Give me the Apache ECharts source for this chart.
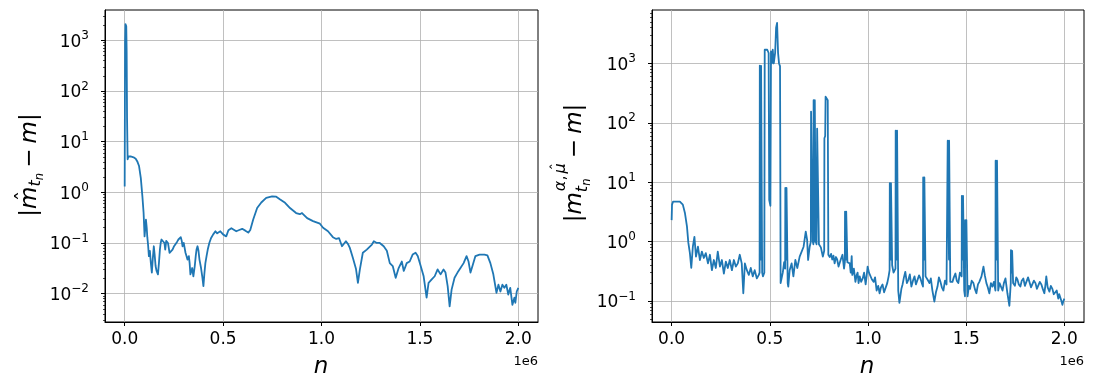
<!DOCTYPE html>
<html><head><meta charset="utf-8">
<script src="https://cdn.jsdelivr.net/npm/echarts@6/dist/echarts.min.js"></script>
<style>html,body{margin:0;padding:0;background:#fff}#c{width:1093px;height:390px}</style>
</head><body><div id="c"></div>
<script>
// x in units of 1e6
const xTicks = [0, 0.5, 1.0, 1.5, 2.0];
const leftYTicks = [0.01, 0.1, 1, 10, 100, 1000];
const rightYTicks = [0.1, 1, 10, 100, 1000];

const leftData = [
[0,1.3],[0.002,900],[0.004,2100],[0.006,2200],[0.008,1900],[0.010,600],[0.012,30],[0.015,4.5],[0.019,5.1],[0.03,5.1],[0.045,4.9],[0.056,4.6],[0.065,4.0],[0.073,3.3],[0.082,1.9],[0.09,0.83],[0.096,0.4],[0.101,0.135],[0.105,0.2],[0.108,0.29],[0.112,0.2],[0.115,0.13],[0.119,0.09],[0.123,0.055],[0.128,0.07],[0.133,0.04],[0.138,0.026],[0.143,0.05],[0.148,0.086],[0.152,0.06],[0.157,0.035],[0.162,0.028],[0.169,0.024],[0.174,0.04],[0.179,0.074],[0.183,0.1],[0.187,0.117],[0.192,0.11],[0.197,0.117],[0.202,0.1],[0.206,0.074],[0.211,0.11],[0.216,0.12],[0.22,0.1],[0.228,0.064],[0.236,0.068],[0.243,0.074],[0.25,0.085],[0.258,0.093],[0.266,0.105],[0.273,0.117],[0.28,0.125],[0.285,0.13],[0.29,0.11],[0.294,0.086],[0.3,0.1],[0.304,0.093],[0.309,0.064],[0.314,0.055],[0.319,0.047],[0.326,0.055],[0.33,0.04],[0.334,0.024],[0.339,0.028],[0.343,0.032],[0.349,0.022],[0.356,0.035],[0.361,0.055],[0.365,0.074],[0.37,0.086],[0.375,0.07],[0.38,0.047],[0.388,0.032],[0.394,0.022],[0.4,0.014],[0.405,0.025],[0.41,0.04],[0.416,0.055],[0.422,0.074],[0.43,0.1],[0.439,0.125],[0.449,0.146],[0.461,0.17],[0.47,0.155],[0.476,0.146],[0.486,0.17],[0.493,0.16],[0.501,0.146],[0.51,0.14],[0.516,0.135],[0.527,0.178],[0.542,0.195],[0.552,0.18],[0.567,0.17],[0.582,0.18],[0.597,0.19],[0.613,0.175],[0.628,0.16],[0.638,0.18],[0.653,0.29],[0.673,0.49],[0.694,0.63],[0.719,0.78],[0.749,0.83],[0.77,0.82],[0.79,0.72],[0.815,0.62],[0.84,0.49],[0.871,0.39],[0.89,0.37],[0.901,0.39],[0.927,0.31],[0.957,0.27],[0.992,0.24],[1.008,0.2],[1.033,0.17],[1.058,0.13],[1.075,0.12],[1.089,0.125],[1.104,0.086],[1.124,0.108],[1.135,0.095],[1.144,0.08],[1.16,0.05],[1.175,0.031],[1.185,0.0163],[1.195,0.03],[1.21,0.064],[1.23,0.074],[1.256,0.093],[1.266,0.108],[1.281,0.1],[1.296,0.1],[1.316,0.086],[1.332,0.07],[1.347,0.04],[1.362,0.035],[1.377,0.0205],[1.392,0.032],[1.408,0.043],[1.418,0.028],[1.433,0.04],[1.448,0.043],[1.463,0.059],[1.478,0.064],[1.489,0.055],[1.504,0.035],[1.519,0.022],[1.534,0.0083],[1.544,0.0163],[1.56,0.019],[1.575,0.022],[1.59,0.03],[1.605,0.024],[1.62,0.03],[1.63,0.026],[1.641,0.014],[1.651,0.0056],[1.661,0.012],[1.676,0.0205],[1.691,0.026],[1.706,0.032],[1.722,0.04],[1.737,0.055],[1.747,0.043],[1.757,0.026],[1.767,0.035],[1.782,0.055],[1.803,0.059],[1.828,0.059],[1.843,0.057],[1.858,0.04],[1.873,0.024],[1.889,0.0104],[1.899,0.015],[1.909,0.011],[1.919,0.015],[1.929,0.013],[1.939,0.015],[1.949,0.0096],[1.959,0.013],[1.97,0.006],[1.98,0.0083],[1.985,0.0066],[1.992,0.011],[2.0,0.013]
];

const rightData = [
[0,2.3],[0.002,4.2],[0.007,4.7],[0.042,4.7],[0.057,4.2],[0.068,3.0],[0.078,1.8],[0.085,0.96],[0.093,0.64],[0.1,0.36],[0.108,0.82],[0.116,1.2],[0.124,0.56],[0.134,0.82],[0.144,0.49],[0.154,0.68],[0.164,0.53],[0.174,0.64],[0.185,0.43],[0.195,0.6],[0.205,0.33],[0.215,0.49],[0.225,0.36],[0.235,0.68],[0.246,0.38],[0.256,0.49],[0.266,0.29],[0.276,0.46],[0.286,0.36],[0.296,0.49],[0.307,0.33],[0.317,0.49],[0.327,0.38],[0.337,0.43],[0.347,0.6],[0.357,0.43],[0.365,0.135],[0.373,0.43],[0.383,0.33],[0.393,0.275],[0.403,0.36],[0.413,0.26],[0.423,0.33],[0.434,0.24],[0.444,0.275],[0.448,0.3],
[0.449,920],[0.4545,900],[0.455,0.5],[0.4555,910],[0.46,900],[0.461,0.3],
[0.465,0.26],[0.472,0.3],[0.474,1700],[0.48,1800],[0.487,1700],[0.494,1500],[0.497,5],[0.503,4],[0.506,1600],[0.51,1000],[0.515,1700],[0.52,1000],[0.527,1500],[0.532,4000],[0.537,4800],[0.542,1500],[0.547,1000],[0.552,900],[0.555,0.2],[0.559,0.2],[0.566,0.3],[0.573,0.45],[0.578,0.35],
[0.579,8],[0.584,8],[0.5845,0.5],[0.585,8],[0.59,8],[0.591,0.2],
[0.594,0.175],[0.601,0.33],[0.611,0.43],[0.62,0.26],[0.63,0.49],[0.64,0.36],[0.652,0.56],[0.662,0.6],[0.672,0.82],[0.683,1.47],[0.69,1.07],[0.695,0.49],[0.703,0.82],[0.709,1.0],[0.710,155],[0.718,150],[0.719,1.0],[0.722,0.9],
[0.723,240],[0.728,240],[0.7285,1.0],[0.729,240],[0.733,240],[0.734,1.0],
[0.738,0.9],[0.741,80],[0.749,80],[0.75,0.9],[0.76,0.8],[0.77,0.56],[0.777,0.7],[0.778,55],[0.782,60],[0.784,275],[0.79,260],[0.795,240],[0.798,0.6],[0.805,0.55],[0.812,0.62],[0.818,0.5],[0.824,0.58],[0.83,0.43],[0.837,0.55],[0.843,0.5],[0.85,0.38],[0.856,0.4],[0.863,0.52],[0.87,0.6],[0.878,0.35],[0.882,0.45],
[0.883,3.2],[0.888,3.2],[0.8885,0.5],[0.889,3.2],[0.894,3.2],[0.895,0.45],
[0.907,0.43],[0.912,0.3],[0.917,0.57],[0.92,0.275],[0.928,0.35],[0.936,0.21],[0.942,0.27],[0.947,0.3],[0.952,0.2],[0.958,0.26],[0.965,0.21],[0.973,0.24],[0.98,0.3],[0.988,0.19],[0.993,0.26],[0.998,0.38],[1.005,0.3],[1.013,0.29],[1.02,0.23],[1.029,0.21],[1.036,0.25],[1.044,0.15],[1.052,0.18],[1.059,0.135],[1.066,0.17],[1.074,0.19],[1.082,0.14],[1.09,0.15],[1.098,0.2],[1.105,0.26],[1.11,0.33],
[1.111,9.6],[1.116,9.6],[1.1165,0.5],[1.117,9.6],[1.122,9.6],[1.123,0.4],
[1.13,0.3],[1.14,0.35],
[1.141,74],[1.147,74],[1.1475,0.5],[1.148,74],[1.153,74],[1.154,0.15],
[1.16,0.093],[1.17,0.16],[1.176,0.19],[1.183,0.25],[1.19,0.31],[1.198,0.2],[1.206,0.23],[1.213,0.28],[1.221,0.175],[1.229,0.22],[1.237,0.26],[1.244,0.19],[1.252,0.2],[1.26,0.27],[1.267,0.24],[1.274,0.2],[1.28,0.175],
[1.281,12],[1.286,12],[1.2865,0.5],[1.287,12],[1.292,12],[1.293,0.26],
[1.303,0.23],[1.313,0.2],[1.32,0.24],[1.328,0.15],[1.338,0.098],[1.346,0.14],[1.354,0.175],[1.361,0.25],[1.369,0.21],[1.376,0.17],[1.384,0.15],[1.392,0.22],[1.4,0.19],[1.405,0.2],
[1.406,50],[1.412,50],[1.4125,0.5],[1.413,50],[1.418,50],[1.419,0.21],
[1.43,0.21],[1.437,0.25],[1.445,0.29],[1.452,0.22],[1.46,0.2],[1.468,0.3],[1.477,0.26],
[1.478,5.9],[1.483,5.9],[1.4835,0.5],[1.484,5.9],[1.489,5.9],[1.49,0.15],[1.494,0.12],
[1.495,2.3],[1.5,2.3],[1.5005,0.5],[1.501,2.3],[1.506,2.3],[1.507,0.12],
[1.514,0.18],[1.52,0.16],[1.528,0.22],[1.537,0.2],[1.544,0.16],[1.552,0.135],[1.56,0.19],[1.567,0.21],[1.578,0.26],[1.588,0.38],[1.595,0.27],[1.603,0.2],[1.61,0.17],[1.618,0.135],[1.626,0.2],[1.634,0.175],[1.641,0.21],[1.649,0.15],
[1.65,23],[1.656,23],[1.6565,0.5],[1.657,23],[1.662,23],[1.663,0.15],
[1.67,0.2],[1.685,0.15],[1.692,0.2],[1.7,0.24],[1.71,0.135],[1.72,0.083],[1.727,0.2],
[1.728,0.72],[1.733,0.72],[1.7335,0.3],[1.734,0.7],[1.738,0.7],[1.739,0.2],
[1.748,0.18],[1.755,0.25],[1.761,0.23],[1.768,0.19],[1.776,0.175],[1.783,0.22],[1.791,0.24],[1.799,0.18],[1.807,0.19],[1.815,0.25],[1.822,0.21],[1.83,0.17],[1.837,0.175],[1.845,0.22],[1.853,0.2],[1.86,0.16],[1.868,0.15],[1.875,0.21],[1.883,0.19],[1.89,0.16],[1.898,0.135],[1.903,0.18],[1.908,0.26],[1.915,0.17],[1.924,0.144],[1.931,0.18],[1.939,0.16],[1.946,0.13],[1.954,0.135],[1.961,0.15],[1.969,0.11],[1.974,0.13],[1.979,0.127],[1.985,0.1],[1.99,0.086],[1.995,0.1],[2.0,0.11]
];

const leftYRange = [0.00275, 3980];
const rightYRange = [0.0443, 7940];
const xRange = [-0.1, 2.1];

const FONT = '"DejaVu Sans", sans-serif';
const BLUE = '#1f77b4';

function minorTicks(r) {
  const out = [];
  for (let e = -4; e <= 4; e++) for (let k = 2; k <= 9; k++) {
    const v = k * Math.pow(10, e);
    if (v > r[0] && v < r[1]) out.push(v);
  }
  return out;
}
function supLabel(v) {
  const e = Math.round(Math.log10(v));
  return '{b|10}{s|' + (e < 0 ? '\u2212' + (-e) : e) + '}';
}
const richSup = {
  b: {fontSize: 17, fontFamily: FONT, color: '#000', lineHeight: 21, verticalAlign: 'bottom'},
  s: {fontSize: 12, fontFamily: FONT, color: '#000', lineHeight: 12, verticalAlign: 'top'}
};

function xAxisDef(gi) {
  return {
    gridIndex: gi, type: 'value', min: xRange[0], max: xRange[1],
    axisLine: {show: true, onZero: false, lineStyle: {color: '#000', width: 1}},
    axisTick: {show: true, length: 4, customValues: xTicks, lineStyle: {color: '#000', width: 1}},
    axisLabel: {customValues: xTicks, formatter: v => v.toFixed(1), fontSize: 17, fontFamily: FONT, color: '#000', margin: 9},
    splitLine: {show: true, lineStyle: {color: '#b0b0b0', width: 0.8}}
  };
}
function yAxisMain(gi, r, ticks) {
  return {
    gridIndex: gi, type: 'log', logBase: 10, min: r[0], max: r[1], position: 'left',
    axisLine: {show: true, onZero: false, lineStyle: {color: '#000', width: 1}},
    axisTick: {show: true, length: 4, customValues: ticks, lineStyle: {color: '#000', width: 1}},
    axisLabel: {customValues: ticks, formatter: supLabel, rich: richSup, margin: 16},
    splitLine: {show: true, lineStyle: {color: '#b0b0b0', width: 0.8}}
  };
}
function yAxisMinor(gi, r) {
  return {
    gridIndex: gi, type: 'log', logBase: 10, min: r[0], max: r[1], position: 'left',
    axisLine: {show: false, onZero: false},
    axisTick: {show: true, length: 2, customValues: minorTicks(r), lineStyle: {color: '#000', width: 0.7}},
    axisLabel: {show: false},
    splitLine: {show: false}
  };
}

// --- math-style rotated axis titles built from text pieces ---
const mctx = document.createElement('canvas').getContext('2d');
function tw(t, size, it) { mctx.font = (it ? 'italic ' : '') + size + 'px "DejaVu Sans"'; return mctx.measureText(t).width; }
function tx(t, x, base, size, it) {
  return {type: 'text', x: x, y: base - 0.346 * size,
    style: {text: t, fontSize: size, fontFamily: FONT, fontStyle: it ? 'italic' : 'normal', fill: '#000', align: 'left', verticalAlign: 'middle'}};
}
function leftTitle(bx, cy) {
  const S = 23, s1 = 0.7 * S, s2 = 0.5 * S;
  const els = []; let x = 0;
  els.push(tx('|', x, 0, S, false)); x += tw('|', S, false);
  const mx = x; els.push(tx('m', x, 0, S, true)); x += tw('m', S, true);
  els.push(tx('\u02C6', mx + 0.33 * S, -0.22 * S, S * 0.9, false));
  els.push(tx('t', x, 3, s1, true)); x += tw('t', s1, true);
  els.push(tx('n', x, 6, s2, true)); x += tw('n', s2, true);
  x += 0.22 * S;
  els.push(tx('\u2212', x, 0, S, false)); x += tw('\u2212', S, false);
  x += 0.22 * S;
  els.push(tx('m', x, 0, S, true)); x += tw('m', S, true);
  els.push(tx('|', x, 0, S, false)); x += tw('|', S, false);
  return {type: 'group', x: bx, y: cy + x / 2, rotation: Math.PI / 2, children: els};
}
function rightTitle(bx, cy) {
  const S = 23, s1 = 0.7 * S, s2 = 0.5 * S;
  const els = []; let x = 0;
  els.push(tx('|', x, 0, S, false)); x += tw('|', S, false);
  els.push(tx('m', x, 0, S, true)); x += tw('m', S, true);
  let xs = x + 1; const sb = -0.72 * S;
  els.push(tx('\u03B1', xs, sb, s1, true)); xs += tw('\u03B1', s1, true);
  els.push(tx(',', xs, sb, s1, false)); xs += tw(',', s1, false) + 2;
  els.push(tx('\u03BC', xs, sb, s1, true));
  els.push(tx('\u02C6', xs + 0.2 * s1, sb - 0.25 * s1, s1 * 0.9, false));
  xs += tw('\u03BC', s1, true);
  let xb = x;
  els.push(tx('t', xb, 5, s1, true)); xb += tw('t', s1, true);
  els.push(tx('n', xb, 8, s2, true)); xb += tw('n', s2, true);
  x = Math.max(xs, xb);
  x += 0.22 * S;
  els.push(tx('\u2212', x, 0, S, false)); x += tw('\u2212', S, false);
  x += 0.22 * S;
  els.push(tx('m', x, 0, S, true)); x += tw('m', S, true);
  els.push(tx('|', x, 0, S, false)); x += tw('|', S, false);
  return {type: 'group', x: bx, y: cy + x / 2, rotation: Math.PI / 2, children: els};
}

const chart = echarts.init(document.getElementById('c'), null, {renderer: 'canvas'});
chart.setOption({
  animation: false,
  backgroundColor: '#fff',
  grid: [
    {left: 105, right: 555, top: 10, bottom: 68, show: true, borderColor: '#000', borderWidth: 1, backgroundColor: 'transparent', containLabel: false, outerBoundsMode: 'none'},
    {left: 652, right: 9, top: 10, bottom: 68, show: true, borderColor: '#000', borderWidth: 1, backgroundColor: 'transparent', containLabel: false, outerBoundsMode: 'none'}
  ],
  xAxis: [xAxisDef(0), xAxisDef(1)],
  yAxis: [yAxisMain(0, leftYRange, leftYTicks), yAxisMinor(0, leftYRange), yAxisMain(1, rightYRange, rightYTicks), yAxisMinor(1, rightYRange)],
  series: [
    {type: 'line', xAxisIndex: 0, yAxisIndex: 0, data: leftData, showSymbol: false, symbol: 'none', lineStyle: {color: BLUE, width: 1.8, join: 'round'}, itemStyle: {color: BLUE}},
    {type: 'line', xAxisIndex: 1, yAxisIndex: 2, data: rightData, showSymbol: false, symbol: 'none', lineStyle: {color: BLUE, width: 1.8, join: 'round'}, itemStyle: {color: BLUE}}
  ],
  graphic: [
    leftTitle(38, 165),
    rightTitle(583, 163),
    {type: 'text', x: 321, y: 375 - 0.346 * 23, style: {text: 'n', fontSize: 23, fontFamily: FONT, fontStyle: 'italic', fill: '#000', align: 'center', verticalAlign: 'middle'}},
    {type: 'text', x: 867, y: 375 - 0.346 * 23, style: {text: 'n', fontSize: 23, fontFamily: FONT, fontStyle: 'italic', fill: '#000', align: 'center', verticalAlign: 'middle'}},
    {type: 'text', x: 538, y: 366 - 0.346 * 13, style: {text: '1e6', fontSize: 13, fontFamily: FONT, fill: '#000', align: 'right', verticalAlign: 'middle'}},
    {type: 'text', x: 1084, y: 366 - 0.346 * 13, style: {text: '1e6', fontSize: 13, fontFamily: FONT, fill: '#000', align: 'right', verticalAlign: 'middle'}}
  ]
});
</script></body></html>
